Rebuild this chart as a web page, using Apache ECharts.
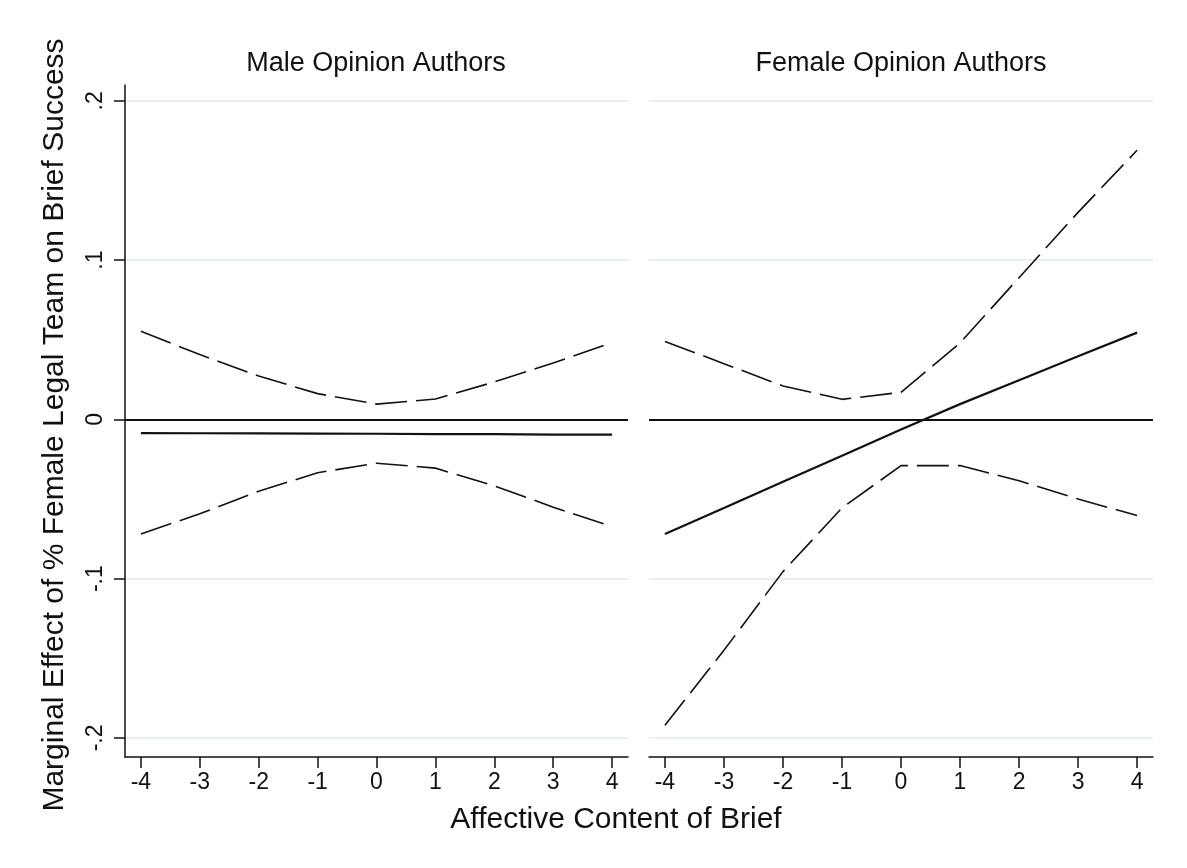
<!DOCTYPE html>
<html>
<head>
<meta charset="utf-8">
<script src="https://cdn.jsdelivr.net/npm/echarts@6/dist/echarts.min.js"></script>
<style>
  html, body { margin: 0; padding: 0; background: #fff; }
  #chart { width: 1187px; height: 868px; }
</style>
</head>
<body>
<div id="chart"></div>
<script>
// affective content values (x)
const xValues = [-4, -3, -2, -1, 0, 1, 2, 3, 4]

// male opinion authors
const maleEffect = [-0.0086, -0.0087, -0.0088, -0.0089, -0.0090, -0.0092, -0.0093, -0.0095, -0.0096]
const maleUpper = [0.0553, 0.0407, 0.0272, 0.0162, 0.0096, 0.0128, 0.0235, 0.0354, 0.0482]
const maleLower = [-0.0719, -0.0593, -0.0451, -0.0335, -0.0275, -0.0306, -0.0417, -0.0551, -0.0673]

// female opinion authors
const femaleEffect = [-0.0719, -0.0556, -0.0392, -0.0228, -0.0063, 0.0096, 0.0246, 0.0396, 0.0545]
const femaleUpper = [0.049, 0.035, 0.021, 0.0126, 0.017, 0.048, 0.089, 0.130, 0.169]
const femaleLower = [-0.192, -0.145, -0.0956, -0.0556, -0.029, -0.029, -0.0385, -0.050, -0.0604]

const xTicks = [-4, -3, -2, -1, 0, 1, 2, 3, 4]
const yTicks = [-0.2, -0.1, 0, 0.1, 0.2]

const panelTitles = ['Male Opinion Authors', 'Female Opinion Authors']
const xTitle = 'Affective Content of Brief'
const yTitle = 'Marginal Effect of % Female Legal Team on Brief Success'

const FONT = '"Liberation Sans", Arial, sans-serif'
const INK = '#111'

const pairs = (ys) => xValues.map((x, i) => [x, ys[i]])

const fmtY = (v) => {
  if (v === 0) return '0'
  return (v < 0 ? '-' : '') + String(Math.abs(v)).replace(/^0/, '')
}

const makeX = (gridIndex) => ({
  type: 'value',
  gridIndex,
  min: -4.27,
  max: 4.27,
  axisLine: { show: true, onZero: false, lineStyle: { color: INK, width: 1.5 } },
  axisTick: { show: true, length: 11, customValues: xTicks, lineStyle: { color: INK, width: 1.5 } },
  axisLabel: { customValues: xTicks, color: INK, fontSize: 23, fontFamily: FONT, margin: 14 },
  splitLine: { show: false },
})

const makeY = (gridIndex, showAxis) => ({
  type: 'value',
  gridIndex,
  min: -0.212,
  max: 0.21,
  axisLine: { show: showAxis, onZero: false, lineStyle: { color: INK, width: 1.5 } },
  axisTick: { show: showAxis, length: 11, customValues: yTicks, lineStyle: { color: INK, width: 1.5 } },
  axisLabel: {
    show: showAxis,
    customValues: yTicks,
    rotate: 90,
    color: INK,
    fontSize: 23,
    fontFamily: FONT,
    margin: 18,
    formatter: fmtY,
  },
  splitLine: { show: true, lineStyle: { color: '#e8f0f2', width: 2 } },
})

const solid = (data, idx) => ({
  type: 'line',
  xAxisIndex: idx,
  yAxisIndex: idx,
  data: pairs(data),
  showSymbol: false,
  silent: true,
  lineStyle: { color: INK, width: 2.2 },
  markLine: {
    silent: true,
    symbol: 'none',
    label: { show: false },
    lineStyle: { color: INK, width: 2, type: 'solid' },
    data: [{ yAxis: 0 }],
  },
})

const dashed = (data, idx) => ({
  type: 'line',
  xAxisIndex: idx,
  yAxisIndex: idx,
  data: pairs(data),
  showSymbol: false,
  silent: true,
  lineStyle: { color: INK, width: 1.6, type: [32, 9] },
})

const chart = echarts.init(document.getElementById('chart'))

chart.setOption({
  backgroundColor: '#fff',
  animation: false,
  grid: [
    { left: 125, top: 85, width: 503, height: 672 },
    { left: 649, top: 85, width: 504, height: 672 },
  ],
  xAxis: [makeX(0), makeX(1)],
  yAxis: [makeY(0, true), makeY(1, false)],
  series: [
    solid(maleEffect, 0),
    dashed(maleUpper, 0),
    dashed(maleLower, 0),
    solid(femaleEffect, 1),
    dashed(femaleUpper, 1),
    dashed(femaleLower, 1),
  ],
  graphic: [
    {
      type: 'text', x: 376, y: 64,
      style: { text: panelTitles[0], fill: INK, font: '27px ' + FONT, textAlign: 'center', textVerticalAlign: 'middle' },
    },
    {
      type: 'text', x: 901, y: 64,
      style: { text: panelTitles[1], fill: INK, font: '27px ' + FONT, textAlign: 'center', textVerticalAlign: 'middle' },
    },
    {
      type: 'text', x: 616, y: 820,
      style: { text: xTitle, fill: INK, font: '30px ' + FONT, textAlign: 'center', textVerticalAlign: 'middle' },
    },
    {
      type: 'text', x: 55, y: 425, rotation: Math.PI / 2,
      style: { text: yTitle, fill: INK, font: '30px ' + FONT, textAlign: 'center', textVerticalAlign: 'middle' },
    },
  ],
})

window.addEventListener('resize', () => chart.resize())
</script>
</body>
</html>
